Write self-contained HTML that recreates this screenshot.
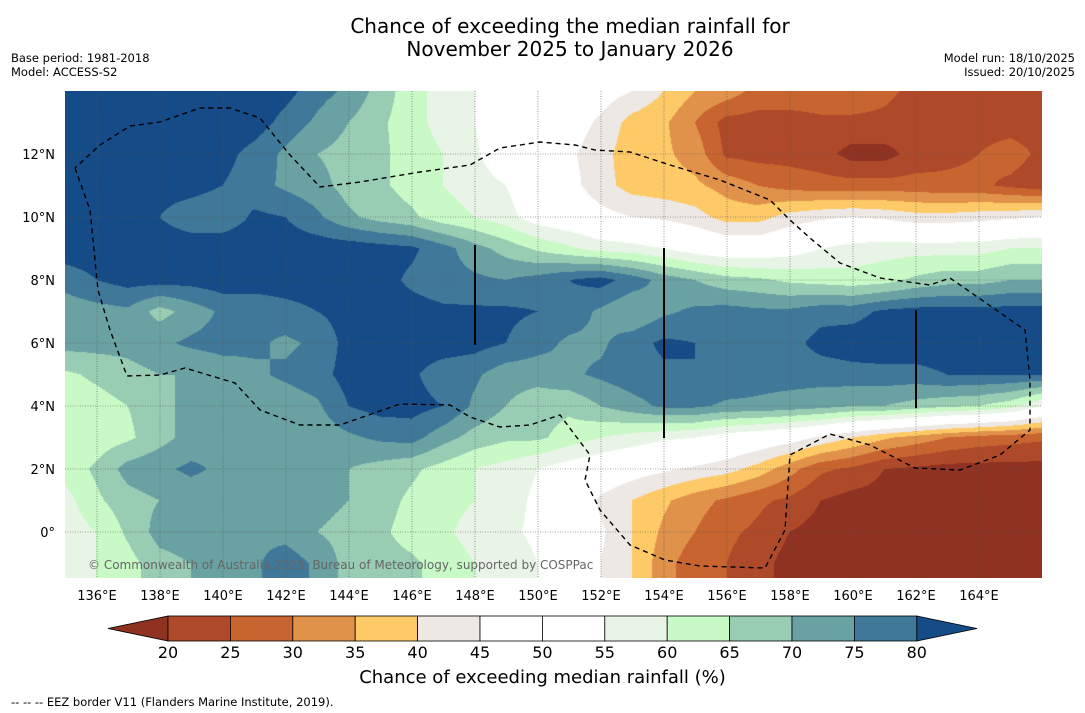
<!DOCTYPE html>
<html><head><meta charset="utf-8"><style>
body{margin:0;width:1085px;height:713px;background:#fff;font-family:"DejaVu Sans","Liberation Sans",sans-serif;position:relative;overflow:hidden}
.t{position:absolute;white-space:nowrap}
</style></head><body>
<div class="t" style="left:0;width:1140px;top:15px;text-align:center;font-size:20px;line-height:23px">Chance of exceeding the median rainfall for<br>November 2025 to January 2026</div>
<div class="t" style="left:11px;top:51px;font-size:11.5px;line-height:14px">Base period: 1981-2018<br>Model: ACCESS-S2</div>
<div class="t" style="right:10px;top:51px;font-size:11.5px;line-height:14px;text-align:right">Model run: 18/10/2025<br>Issued: 20/10/2025</div>
<canvas id="map" width="977" height="487" style="position:absolute;left:65px;top:91px"></canvas>
<svg id="ov" width="1085" height="713" style="position:absolute;left:0;top:0"></svg>
<div class="t" style="left:88px;top:558px;font-size:12px;color:#666">© Commonwealth of Australia 2025, Bureau of Meteorology, supported by COSPPac</div>
<div class="t" style="left:0;width:1085px;top:667px;text-align:center;font-size:18px">Chance of exceeding median rainfall (%)</div>
<div class="t" style="left:11px;top:695px;font-size:11.5px">--  --  -- EEZ border V11 (Flanders Marine Institute, 2019).</div>
<script>
const lons=[135,136,137,138,139,140,141,142,143,144,145,146,147,148,149,150,151,152,153,154,155,156,157,158,159,160,161,162,163,164,165,166];
const lats=[14,13,12,11,10,9,8,7,6,5,4,3,2,1,0,-1,-2];
const r14=[85,85,85,85,85,85,85,82,77,74,68,62,58,55,50,50,50,48,45,40,35,33,28,28,28,28,26,24,24,24,24,24];
const r13=[85,85,85,85,85,85,83,78,74,70,66,62,58,55,50,50,48,44,38,36,30,23,23,23,24,24,24,23,23,23,23,23];
const r12=[83,83,83,83,82,82,78,74,70,68,66,63,60,56,50,50,46,42,37,36,33,24,23,23,22,18,18,22,24,25,27,24];
const r11=[83,83,83,82,82,80,77,74,72,68,66,63,60,58,55,50,47,42,38,37,36,33,30,28,27,27,27,27,26,26,24,22];
const r10=[82,82,82,80,77,76,81,80,76,71,68,66,62,60,57,52,50,47,45,44,42,38,38,42,44,45,44,42,42,43,44,45];
const r9=[83,83,83,83,83,84,84,83,83,83,82,81,77,72,68,64,61,58,57,55,52,50,50,52,55,57,58,58,58,58,60,60];
const r8=[77,80,82,82,82,83,83,83,83,83,82,79,77,76,75,77,80,82,78,73,70,67,66,64,63,62,63,66,68,68,70,70];
const r7=[72,73,74,68,72,76,76,78,80,82,82,82,81,81,81,80,78,74,70,74,76,77,76,76,78,78,81,82,82,82,82,82];
const r6=[72,72,72,74,76,77,76,74,76,82,83,83,83,82,80,77,74,74,78,81,80,77,76,78,82,83,84,84,84,84,83,83];
const r5=[64,66,68,70,70,72,74,76,78,82,82,81,77,76,72,72,74,76,78,79,80,79,77,77,77,78,78,78,80,80,80,80];
const r4=[62,63,65,68,72,75,72,72,74,80,82,82,80,74,70,67,66,70,73,76,76,74,74,73,72,70,70,68,66,65,62,55];
const r3=[60,62,64,68,72,74,73,72,72,74,76,77,72,68,66,66,63,60,58,56,55,52,50,48,44,40,36,33,30,28,27,26];
const r2=[62,66,72,74,76,74,74,72,72,70,68,66,63,60,58,55,52,50,48,46,44,42,38,32,26,24,20,19,18,18,18,18];
const r1=[58,64,68,70,72,72,74,74,72,70,67,64,62,60,57,54,50,44,40,36,32,29,26,24,20,18,18,18,18,18,18,18];
const r0=[57,60,66,72,73,72,74,73,70,68,66,63,61,58,56,54,50,46,40,34,30,26,24,20,18,18,18,18,18,18,18,18];
const rm1=[56,60,63,68,70,72,74,78,74,68,67,66,63,60,58,55,52,45,40,32,27,25,22,18,18,18,18,18,18,18,18,18];
const rm2=[56,60,63,68,70,72,74,78,74,68,67,66,63,60,58,55,52,45,40,32,27,25,22,18,18,18,18,18,18,18,18,18];
const grid=[r14,r13,r12,r11,r10,r9,r8,r7,r6,r5,r4,r3,r2,r1,r0,rm1,rm2];
const levels=[20,25,30,35,40,45,50,55,60,65,70,75,80];
const colors=["#8f3222","#ae4a2a","#c8642f","#e0924a","#fdca67","#ede8e4","#ffffff","#ffffff","#e8f5e6","#c8f9c6","#98ccb3","#6aa1a3","#3f7898","#154b86"];
const tickLons=[136,138,140,142,144,146,148,150,152,154,156,158,160,162,164];
const tickLats=[12,10,8,6,4,2,0];
const X0=65.5,Y0=91,PX=31.5;
const xOf=l=>X0+(l-135)*PX, yOf=p=>Y0+(14-p)*PX;
function bin(v){let i=0;while(i<levels.length&&v>=levels[i])i++;return i;}
function hex(c){return [parseInt(c.substr(1,2),16),parseInt(c.substr(3,2),16),parseInt(c.substr(5,2),16)];}
const rgb=colors.map(hex);
const cv=document.getElementById('map'),ctx=cv.getContext('2d');
const img=ctx.createImageData(cv.width,cv.height);
for(let py=0;py<cv.height;py++){const lat=14-(py+0.5)/PX;let fi=14-lat;let i=Math.min(Math.floor(fi),grid.length-2);let ty=fi-i;
 for(let px=0;px<cv.width;px++){const lon=135+(px+0.5)/PX;let fj=lon-135;let j=Math.min(Math.floor(fj),lons.length-2);let tx=fj-j;
  const v=(grid[i][j]*(1-tx)+grid[i][j+1]*tx)*(1-ty)+(grid[i+1][j]*(1-tx)+grid[i+1][j+1]*tx)*ty;
  const c=rgb[bin(v)];const k=(py*cv.width+px)*4;img.data[k]=c[0];img.data[k+1]=c[1];img.data[k+2]=c[2];img.data[k+3]=255;}}
ctx.putImageData(img,0,0);
const NS="http://www.w3.org/2000/svg",sv=document.getElementById('ov');
function el(t,a,p){const e=document.createElementNS(NS,t);for(const k in a)e.setAttribute(k,a[k]);(p||sv).appendChild(e);return e;}
tickLons.forEach(l=>{const g=el('line',{x1:xOf(l),x2:xOf(l),y1:91,y2:578,stroke:'#555','stroke-width':0.6,'stroke-dasharray':'1,1.5'});


const t=el('text',{x:xOf(l),y:600,'font-size':13,'text-anchor':'middle'});t.textContent=l+'°E';

});
tickLats.forEach(p=>{const g=el('line',{x1:65,x2:1042,y1:yOf(p),y2:yOf(p),stroke:'#555','stroke-width':0.6,'stroke-dasharray':'1,1.5'});


const t=el('text',{x:55,y:yOf(p)+5,'font-size':13,'text-anchor':'end'});t.textContent=p===0?'0°':p+'°N';

});
const eez="75,168 90,210 98,290 110,330 127,376 160,375 185,368 235,383 260,410 300,425 340,425 400,404 450,405 470,417 500,427 530,425 560,415 590,455 585,480 600,510 630,545 665,560 700,566 765,568 785,530 790,455 830,434 870,445 915,468 960,470 1000,455 1030,430 1030,380 1025,330 950,278 930,285 880,278 840,263 810,238 790,220 770,200 720,180 670,165 630,152 595,150 575,145 540,142 500,148 470,165 420,172 360,182 320,187 290,155 260,118 230,108 200,108 160,122 130,126 100,145 75,168";
const pe=el('polyline',{points:eez,fill:'none',stroke:'#000','stroke-width':1.4,'stroke-dasharray':'5,4'});


[[475,245,345],[664,248,438],[916,310,408]].forEach(a=>{const l=el('line',{x1:a[0],x2:a[0],y1:a[1],y2:a[2],stroke:'#000','stroke-width':2});

});
const cbX=168,cbW=62.4,cbY=616,cbH=25;
const lt=el('polygon',{points:`108,${cbY+cbH/2} ${cbX},${cbY} ${cbX},${cbY+cbH}`,fill:colors[0],stroke:'#000','stroke-width':0.8});


for(let i=1;i<colors.length-1;i++){const r=el('rect',{x:cbX+(i-1)*cbW,y:cbY,width:cbW,height:cbH,fill:colors[i],stroke:'#000','stroke-width':0.8});

}
const rt=el('polygon',{points:`${cbX+12*cbW},${cbY} 977,${cbY+cbH/2} ${cbX+12*cbW},${cbY+cbH}`,fill:colors[13],stroke:'#000','stroke-width':0.8});


levels.forEach((v,i)=>{const t=el('text',{x:cbX+i*cbW,y:658,'font-size':16,'text-anchor':'middle'});t.textContent=v;

});
</script>
</body></html>
